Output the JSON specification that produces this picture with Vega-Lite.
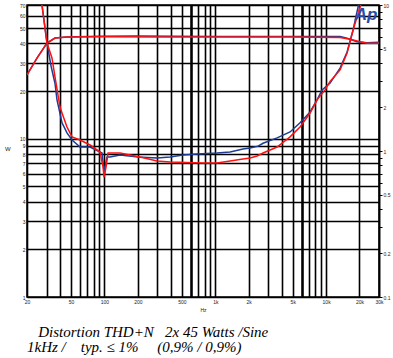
{
  "$schema": "https://vega.github.io/schema/vega-lite/v6.json",
  "width": 352,
  "height": 292,
  "autosize": {"type": "none"},
  "padding": {"left": 27, "top": 5, "right": 14, "bottom": 61},
  "background": "white",
  "config": {
    "view": {"stroke": "black", "strokeWidth": 1.5},
    "font": "Liberation Sans"
  },
  "title": {
    "text": ["\u200b\u00a0\u00a0\u00a0Distortion THD+N\u00a0\u00a0\u00a02x 45 Watts /Sine", "1kHz /\u00a0\u00a0\u00a0\u00a0typ. ≤ 1%\u00a0\u00a0\u00a0\u00a0\u00a0(0,9% / 0,9%)"],
    "orient": "bottom",
    "anchor": "start",
    "frame": "group",
    "font": "Liberation Serif",
    "fontStyle": "italic",
    "fontWeight": "normal",
    "fontSize": 15,
    "lineHeight": 15,
    "color": "black",
    "offset": 13
  },
  "datasets": {
    "pwr": [
      {"ch": "Left", "f": 20, "W": 25.3},
      {"ch": "Left", "f": 24.6, "W": 32.3},
      {"ch": "Left", "f": 30.3, "W": 40.2},
      {"ch": "Left", "f": 35.8, "W": 43.3},
      {"ch": "Left", "f": 45.9, "W": 44.0},
      {"ch": "Left", "f": 91, "W": 44.4},
      {"ch": "Left", "f": 200, "W": 44.6},
      {"ch": "Left", "f": 400, "W": 44.4},
      {"ch": "Left", "f": 1000, "W": 44.3},
      {"ch": "Left", "f": 3000, "W": 44.3},
      {"ch": "Left", "f": 8000, "W": 44.2},
      {"ch": "Left", "f": 13360, "W": 44.2},
      {"ch": "Left", "f": 15460, "W": 43.1},
      {"ch": "Left", "f": 19010, "W": 41.0},
      {"ch": "Left", "f": 23430, "W": 40.4},
      {"ch": "Left", "f": 30000, "W": 40.7},
      {"ch": "Right", "f": 20, "W": 25.3},
      {"ch": "Right", "f": 24.6, "W": 32.3},
      {"ch": "Right", "f": 30.3, "W": 40.2},
      {"ch": "Right", "f": 35.8, "W": 43.3},
      {"ch": "Right", "f": 45.9, "W": 43.9},
      {"ch": "Right", "f": 91, "W": 44.1},
      {"ch": "Right", "f": 300, "W": 44.0},
      {"ch": "Right", "f": 1000, "W": 44.0},
      {"ch": "Right", "f": 5000, "W": 44.0},
      {"ch": "Right", "f": 13360, "W": 43.6},
      {"ch": "Right", "f": 16450, "W": 42.5},
      {"ch": "Right", "f": 20250, "W": 41.0},
      {"ch": "Right", "f": 23430, "W": 40.1},
      {"ch": "Right", "f": 30000, "W": 40.1}
    ],
    "thd": [
      {"ch": "Left", "f": 26.2, "pct": 12.5},
      {"ch": "Left", "f": 27.3, "pct": 10},
      {"ch": "Left", "f": 30.3, "pct": 5.49},
      {"ch": "Left", "f": 33.0, "pct": 3.8},
      {"ch": "Left", "f": 35.8, "pct": 2.9},
      {"ch": "Left", "f": 37.3, "pct": 2.24},
      {"ch": "Left", "f": 41.4, "pct": 1.56},
      {"ch": "Left", "f": 45.9, "pct": 1.33},
      {"ch": "Left", "f": 51.0, "pct": 1.19},
      {"ch": "Left", "f": 60.2, "pct": 1.065},
      {"ch": "Left", "f": 74.1, "pct": 1.065},
      {"ch": "Left", "f": 95.1, "pct": 0.969},
      {"ch": "Left", "f": 99.1, "pct": 0.718},
      {"ch": "Left", "f": 105.5, "pct": 0.91},
      {"ch": "Left", "f": 112.3, "pct": 0.91},
      {"ch": "Left", "f": 138.2, "pct": 0.939},
      {"ch": "Left", "f": 200.8, "pct": 0.91},
      {"ch": "Left", "f": 298, "pct": 0.896},
      {"ch": "Left", "f": 390.6, "pct": 0.91},
      {"ch": "Left", "f": 511.6, "pct": 0.939},
      {"ch": "Left", "f": 684.4, "pct": 0.954},
      {"ch": "Left", "f": 1037, "pct": 0.969},
      {"ch": "Left", "f": 1359, "pct": 0.984},
      {"ch": "Left", "f": 1781, "pct": 1.032},
      {"ch": "Left", "f": 2060, "pct": 1.048},
      {"ch": "Left", "f": 2431, "pct": 1.08},
      {"ch": "Left", "f": 2698, "pct": 1.13},
      {"ch": "Left", "f": 3610, "pct": 1.23},
      {"ch": "Left", "f": 4727, "pct": 1.35},
      {"ch": "Left", "f": 5820, "pct": 1.56},
      {"ch": "Left", "f": 7166, "pct": 1.85},
      {"ch": "Left", "f": 8284, "pct": 2.24},
      {"ch": "Left", "f": 9193, "pct": 2.62},
      {"ch": "Left", "f": 10859, "pct": 2.92},
      {"ch": "Left", "f": 13360, "pct": 3.7},
      {"ch": "Left", "f": 15460, "pct": 4.76},
      {"ch": "Left", "f": 17510, "pct": 6.74},
      {"ch": "Left", "f": 19420, "pct": 9.7},
      {"ch": "Left", "f": 20500, "pct": 11.5},
      {"ch": "Right", "f": 26.2, "pct": 12.5},
      {"ch": "Right", "f": 27.3, "pct": 10},
      {"ch": "Right", "f": 30.3, "pct": 5.49},
      {"ch": "Right", "f": 33.6, "pct": 4.34},
      {"ch": "Right", "f": 35.8, "pct": 3.21},
      {"ch": "Right", "f": 39.7, "pct": 2.0},
      {"ch": "Right", "f": 41.4, "pct": 1.82},
      {"ch": "Right", "f": 45.9, "pct": 1.46},
      {"ch": "Right", "f": 51.0, "pct": 1.25},
      {"ch": "Right", "f": 60.2, "pct": 1.19},
      {"ch": "Right", "f": 74.1, "pct": 1.10},
      {"ch": "Right", "f": 91.2, "pct": 0.984},
      {"ch": "Right", "f": 97.1, "pct": 0.777},
      {"ch": "Right", "f": 99.1, "pct": 0.663},
      {"ch": "Right", "f": 103.3, "pct": 0.777},
      {"ch": "Right", "f": 107.7, "pct": 0.969},
      {"ch": "Right", "f": 138.2, "pct": 0.969},
      {"ch": "Right", "f": 209.4, "pct": 0.91},
      {"ch": "Right", "f": 298, "pct": 0.854},
      {"ch": "Right", "f": 390.6, "pct": 0.841},
      {"ch": "Right", "f": 775.4, "pct": 0.828},
      {"ch": "Right", "f": 1037, "pct": 0.828},
      {"ch": "Right", "f": 1359, "pct": 0.854},
      {"ch": "Right", "f": 1781, "pct": 0.882},
      {"ch": "Right", "f": 2060, "pct": 0.896},
      {"ch": "Right", "f": 2381, "pct": 0.924},
      {"ch": "Right", "f": 2698, "pct": 0.969},
      {"ch": "Right", "f": 3610, "pct": 1.065},
      {"ch": "Right", "f": 4727, "pct": 1.25},
      {"ch": "Right", "f": 5820, "pct": 1.46},
      {"ch": "Right", "f": 7166, "pct": 1.82},
      {"ch": "Right", "f": 8284, "pct": 2.24},
      {"ch": "Right", "f": 9782, "pct": 2.62},
      {"ch": "Right", "f": 10859, "pct": 3.0},
      {"ch": "Right", "f": 13360, "pct": 3.59},
      {"ch": "Right", "f": 15460, "pct": 4.69},
      {"ch": "Right", "f": 17510, "pct": 6.74},
      {"ch": "Right", "f": 20250, "pct": 9.7},
      {"ch": "Right", "f": 21550, "pct": 11.5}
    ],
    "logo": [{"f": 22940, "pct": 8.6, "label": "Ap"}]
  },
  "layer": [
    {
      "data": {"name": "pwr"},
      "mark": {"type": "line", "clip": true, "strokeWidth": 1.5},
      "encoding": {
        "x": {
          "field": "f", "type": "quantitative",
          "scale": {"type": "log", "domain": [20, 30000], "nice": false},
          "axis": {
            "values": [20,30,40,50,60,70,80,90,100,200,300,400,500,600,700,800,900,1000,2000,3000,4000,5000,6000,7000,8000,9000,10000,20000,30000],
            "labelExpr": "indexof([20,50,100,200,500,1000,2000,5000,10000,20000,30000], datum.value) >= 0 ? (datum.value >= 1000 ? (datum.value/1000) + 'k' : datum.value + '') : ''",
            "grid": true,
            "gridColor": "black",
            "gridOpacity": 1,
            "gridWidth": {"condition": {"test": "datum.value == 600 || datum.value == 6000", "value": 2.6}, "value": 1.6},
            "ticks": false,
            "domain": false,
            "labelFontSize": 5,
            "labelColor": "#222",
            "labelPadding": 2,
            "labelFlush": false,
            "labelOverlap": false,
            "title": "Hz",
            "titleFontSize": 5,
            "titleFontWeight": "normal",
            "titleColor": "#222",
            "titlePadding": 3
          }
        },
        "y": {
          "field": "W", "type": "quantitative",
          "scale": {"type": "log", "domain": [1, 70], "nice": false},
          "axis": {
            "values": [1,2,3,4,5,6,7,8,9,10,20,30,40,50,60,70],
            "format": "d",
            "grid": true,
            "gridColor": "black",
            "gridOpacity": 1,
            "gridWidth": 1.6,
            "ticks": false,
            "domain": false,
            "labelFontSize": 5,
            "labelColor": "#222",
            "labelPadding": 2,
            "labelOverlap": false,
            "labelFlush": false,
            "title": "W",
            "titleAngle": 0,
            "titleFontSize": 6,
            "titleFontWeight": "normal",
            "titleColor": "#222",
            "titlePadding": 12
          }
        },
        "color": {
          "field": "ch", "type": "nominal",
          "scale": {"domain": ["Left", "Right"], "range": ["#1c3c96", "#ff1010"]},
          "legend": null
        }
      }
    },
    {
      "data": {"name": "thd"},
      "mark": {"type": "line", "clip": true, "strokeWidth": 1.5},
      "encoding": {
        "x": {"field": "f", "type": "quantitative"},
        "y": {
          "field": "pct", "type": "quantitative",
          "scale": {"type": "log", "domain": [0.1, 10], "nice": false},
          "axis": {
            "orient": "right",
            "values": [0.1,0.2,0.3,0.4,0.5,0.6,0.7,0.8,0.9,1,2,3,4,5,6,7,8,9,10],
            "labelExpr": "indexof([0.1,0.2,0.5,1,2,5,10], datum.value) >= 0 ? datum.value + '' : ''",
            "grid": false,
            "ticks": true,
            "tickSize": 3,
            "tickColor": "black",
            "tickWidth": 1,
            "domain": true,
            "domainColor": "black",
            "domainWidth": 1.5,
            "labelFontSize": 5,
            "labelColor": "#222",
            "labelPadding": 1,
            "labelOverlap": false,
            "labelFlush": false,
            "title": null
          }
        },
        "color": {"field": "ch", "type": "nominal", "legend": null}
      }
    },
    {
      "data": {"name": "logo"},
      "mark": {"type": "text", "font": "Liberation Sans", "fontStyle": "italic", "fontWeight": "bold", "fontSize": 17, "color": "#2a4aa8", "align": "center", "baseline": "middle"},
      "encoding": {
        "x": {"field": "f", "type": "quantitative"},
        "y": {"field": "pct", "type": "quantitative", "scale": {"type": "log", "domain": [0.1, 10], "nice": false}, "axis": null},
        "text": {"field": "label"}
      }
    }
  ],
  "resolve": {"scale": {"y": "independent"}}
}
